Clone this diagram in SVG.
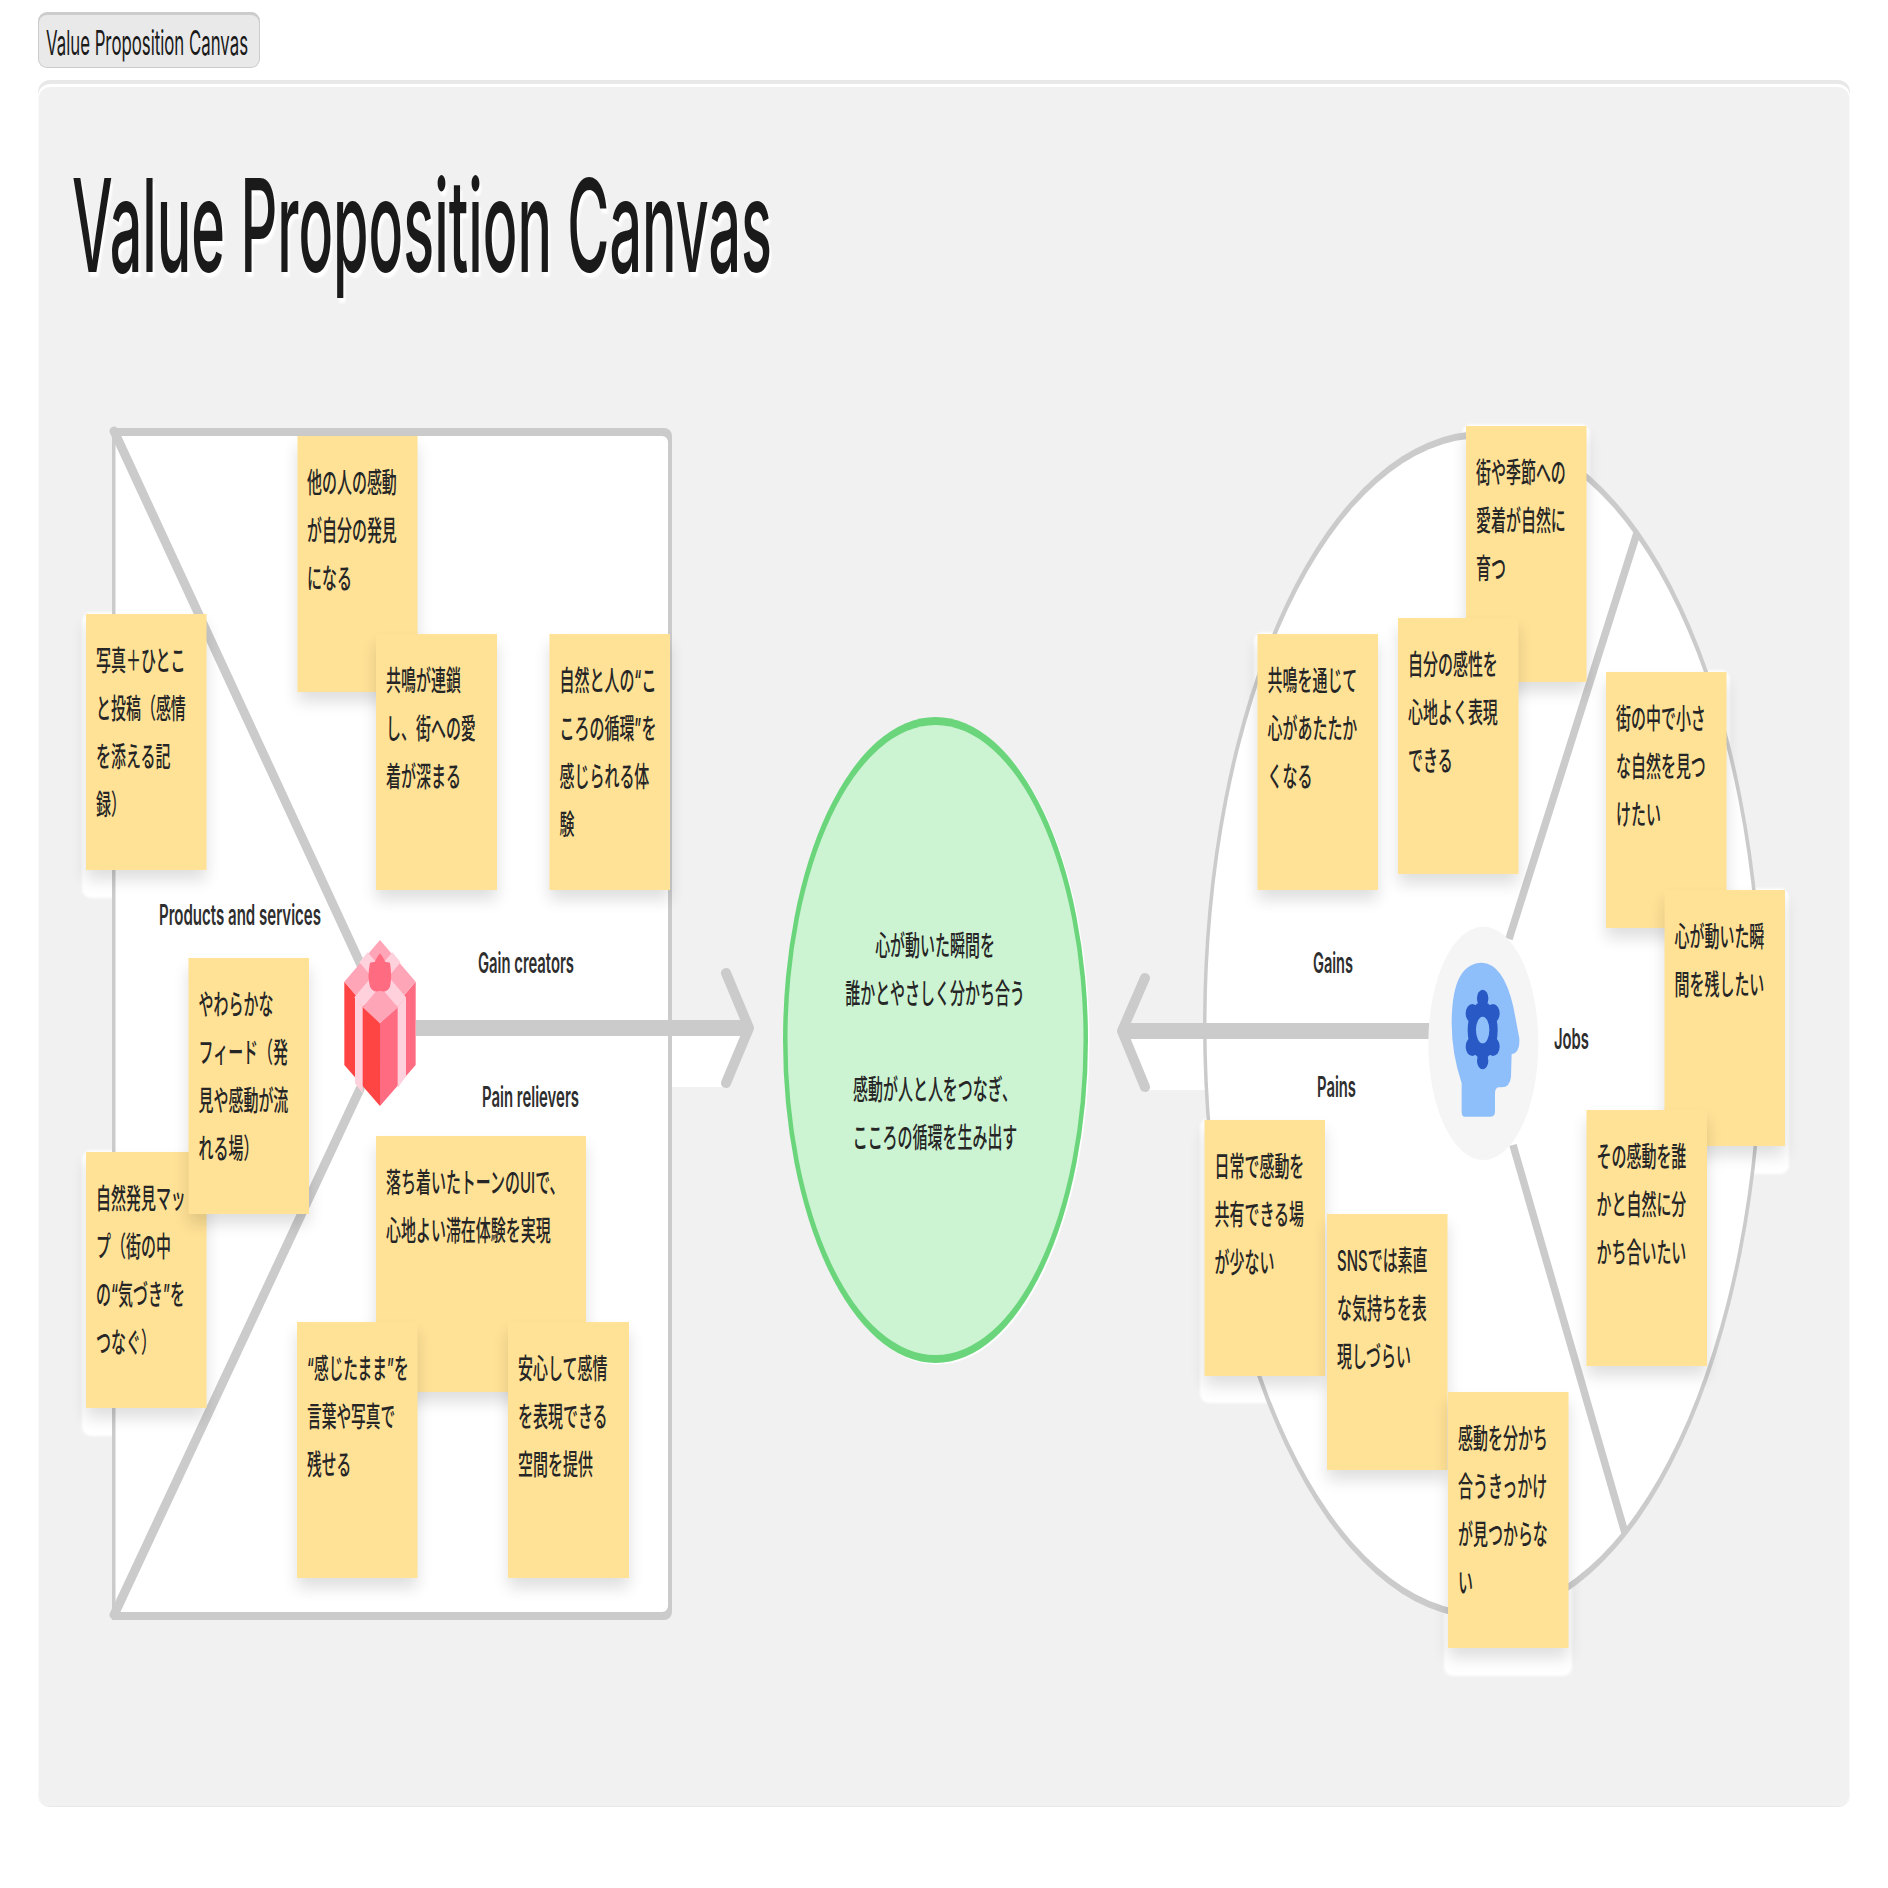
<svg xmlns="http://www.w3.org/2000/svg" width="1888" height="1888" viewBox="0 0 1888 1888">
<style>
text{font-family:Inter,"Noto Sans CJK JP",sans-serif;fill:#262626}
.dk{fill:#1a1a1a}
.n rect{fill:#ffe296;filter:url(#sh)}
.n text{font-size:28px;font-weight:500}
.lab{font-size:28px;font-weight:600;fill:#2e2e2e}
.c{fill:none;stroke:#cccbcc;stroke-linecap:round;stroke-linejoin:round}
.b{stroke-linecap:butt}
.halo{filter:url(#bl)}
.halo rect{fill:#fff;rx:9px}
</style>
<defs>
<filter id="sh" x="-30%" y="-10%" width="160%" height="130%" color-interpolation-filters="sRGB"><feGaussianBlur in="SourceAlpha" stdDeviation="8"/><feOffset dy="10"/><feComponentTransfer><feFuncA type="linear" slope=".13"/></feComponentTransfer><feMerge><feMergeNode/><feMergeNode in="SourceGraphic"/></feMerge></filter>
<filter id="tw" x="-5%" y="-10%" width="110%" height="125%" color-interpolation-filters="sRGB"><feDropShadow dx="2" dy="5" stdDeviation="1" flood-color="#fff"/></filter>
<filter id="bl" x="-5%" y="-5%" width="110%" height="110%"><feGaussianBlur stdDeviation="1"/></filter>
</defs>
<rect width="1888" height="1888" fill="#fff"/>
<g id="button"><rect x="38" y="12" width="222" height="56" rx="9" fill="#ccc"/><rect x="39" y="15" width="220" height="52" rx="8" fill="#e9e9e9"/>
<text class="dk" x="46" y="55" font-size="34" textLength="202" lengthAdjust="spacingAndGlyphs">Value Proposition Canvas</text></g>
<g id="canvas"><rect x="38" y="80" width="1812" height="1727" rx="12" fill="#e8e8e8"/><rect x="38" y="84" width="1812" height="1722" rx="12" fill="#fff"/><rect x="38.500" y="87" width="1811" height="1719" rx="12" fill="#f1f1f1"/></g>
<text class="dk" id="title" x="72" y="272" font-size="129" font-weight="500" textLength="700" lengthAdjust="spacingAndGlyphs" filter="url(#tw)">Value Proposition Canvas</text>
<g class="halo" id="halos">
<rect x="82" y="612" width="128" height="286"/><rect x="82" y="1150" width="128" height="286"/><rect x="1200" y="1118" width="129" height="285"/><rect x="1444" y="1390" width="128" height="286"/><rect x="1660" y="888" width="129" height="286"/><rect x="1462" y="424" width="128" height="286"/><rect x="1602" y="670" width="128" height="286"/><rect x="1254" y="632" width="128" height="286"/>
</g>
<path d="M672 1036H745L726 1087H672ZM1130 1039H1206V1090H1148Z" fill="#fff"/>
<g id="value-map-shape"><path d="M112 428H664a8 8 0 0 1 8 8V1612a8 8 0 0 1-8 8H112Z" fill="#cccbcc"/><path d="M115.500 436H662a6 6 0 0 1 6 6V1606a6 6 0 0 1-6 6H115.500Z" fill="#fff"/></g>
<g id="customer-profile-shape"><ellipse cx="1483" cy="1025" rx="280" ry="594" fill="#cccbcc"/><ellipse cx="1483" cy="1025" rx="276.500" ry="587" fill="#fff"/></g>
<g id="connectors">
<path class="c" stroke-width="9" d="M114 431L361 965M114 1615L360 1089"/>
<path class="c b" stroke-width="16" d="M416 1028H746"/>
<path class="c" stroke-width="10" d="M726 973L749 1028L726 1083"/>
<path class="c b" stroke-width="16" d="M1429 1031H1124"/>
<path class="c" stroke-width="10" d="M1145 978L1122 1031L1145 1087"/>
<path class="c b" stroke-width="7.500" d="M1637 533L1509 939M1513 1145L1625 1533"/>
</g>
<g id="value-proposition"><ellipse cx="937" cy="1041.500" rx="152.500" ry="323" fill="#fff"/><ellipse cx="935.500" cy="1040" rx="152.500" ry="323" fill="#6bd57c"/><ellipse cx="935.500" cy="1040" rx="148" ry="315" fill="#ccf4d2"/>
<text text-anchor="middle" font-size="28" font-weight="500" transform="translate(935 956) scale(.535 1)"><tspan x="0" y="0">心が動いた瞬間を</tspan><tspan x="0" y="48">誰かとやさしく分かち合う</tspan><tspan x="0" y="144">感動が人と人をつなぎ、</tspan><tspan x="0" y="192">こころの循環を生み出す</tspan></text></g>
<g id="gift" transform="translate(330 920) scale(.3333)">
<path d="M43 185L150 310V558L43 435Z" fill="#ff4444"/><path d="M150 310L257 185V435L150 558Z" fill="#ff6b81"/>
<path d="M150 60L257 185L150 310L43 185Z" fill="#ffa5b8"/>
<path d="M113 97L228 232L203 262L88 127ZM187 97L212 127L98 262L73 232Z" fill="#ffd1dc"/>
<path d="M150 215L205 262L150 310L98 262Z" fill="#ffa5b8"/>
<path d="M75 230L98 262V520L75 490ZM203 262L228 230V468L203 505Z" fill="#ffd1dc"/>
<path d="M150 100Q162 115 165 125L180 128Q187 170 180 200Q170 220 150 212Q130 220 120 200Q111 170 120 128L135 125Q138 115 150 100Z" fill="#ff6b81"/>
</g>
<g id="head" transform="translate(1410 910) scale(.3333)">
<ellipse cx="220" cy="400" rx="165" ry="350" fill="#f5f5f5"/>
<path d="M165 620Q155 620 155 605V520Q125 430 125 340Q125 160 215 158Q280 160 310 290L328 385Q330 430 305 432L303 500Q300 532 275 532H265Q255 535 255 550V605Q255 620 240 620Z" fill="#8fbffa"/>
<g fill="#2859c5"><ellipse cx="218" cy="360" rx="45" ry="85"/><ellipse cx="218" cy="265" rx="17" ry="26"/><ellipse cx="218" cy="452" rx="17" ry="26"/><ellipse cx="187" cy="310" rx="20" ry="28"/><ellipse cx="249" cy="310" rx="20" ry="28"/><ellipse cx="187" cy="410" rx="20" ry="28"/><ellipse cx="249" cy="410" rx="20" ry="28"/></g>
<ellipse cx="218" cy="360" rx="20" ry="40" fill="#8fbffa"/>
</g>
<text class="lab" x="159" y="925" textLength="162" lengthAdjust="spacingAndGlyphs">Products and services</text>
<text class="lab" x="478" y="973" textLength="96" lengthAdjust="spacingAndGlyphs">Gain creators</text>
<text class="lab" x="482" y="1107" textLength="97" lengthAdjust="spacingAndGlyphs">Pain relievers</text>
<text class="lab" x="1313" y="973" textLength="40" lengthAdjust="spacingAndGlyphs">Gains</text>
<text class="lab" x="1317" y="1097" textLength="39" lengthAdjust="spacingAndGlyphs">Pains</text>
<text class="lab" x="1554" y="1049" textLength="35" lengthAdjust="spacingAndGlyphs">Jobs</text>
<g id="note-1" class="n"><rect x="297.500" y="436" width="120" height="256"/><text transform="translate(307 493) scale(.535 1)"><tspan x="0" y="0">他の人の感動</tspan><tspan x="0" y="48">が自分の発見</tspan><tspan x="0" y="96">になる</tspan></text></g>
<g id="note-2" class="n"><rect x="86" y="614" width="120.500" height="256"/><text transform="translate(96 671) scale(.535 1)"><tspan x="0" y="0">写真＋ひとこ</tspan><tspan x="0" y="48">と投稿（感情</tspan><tspan x="0" y="96">を添える記</tspan><tspan x="0" y="144">録）</tspan></text></g>
<g id="note-3" class="n"><rect x="376" y="634" width="121" height="256"/><text transform="translate(386 691) scale(.535 1)"><tspan x="0" y="0">共鳴が連鎖</tspan><tspan x="0" y="48">し、街への愛</tspan><tspan x="0" y="96">着が深まる</tspan></text></g>
<g id="note-4" class="n"><rect x="549.500" y="634" width="120.500" height="256"/><text transform="translate(559.500 691) scale(.535 1)"><tspan x="0" y="0">自然と人の“こ</tspan><tspan x="0" y="48">ころの循環”を</tspan><tspan x="0" y="96">感じられる体</tspan><tspan x="0" y="144">験</tspan></text></g>
<g id="note-5" class="n"><rect x="86" y="1152" width="120.500" height="256"/><text transform="translate(96 1209) scale(.535 1)"><tspan x="0" y="0">自然発見マッ</tspan><tspan x="0" y="48">プ（街の中</tspan><tspan x="0" y="96">の“気づき”を</tspan><tspan x="0" y="144">つなぐ）</tspan></text></g>
<g id="note-6" class="n"><rect x="188.500" y="958" width="120.500" height="256"/><text transform="translate(198.500 1015) scale(.535 1)"><tspan x="0" y="0">やわらかな</tspan><tspan x="0" y="48">フィード（発</tspan><tspan x="0" y="96">見や感動が流</tspan><tspan x="0" y="144">れる場）</tspan></text></g>
<g id="note-7" class="n"><rect x="376" y="1136" width="210" height="256"/><text transform="translate(386 1193) scale(.535 1)"><tspan x="0" y="0">落ち着いたトーンのUIで、</tspan><tspan x="0" y="48">心地よい滞在体験を実現</tspan></text></g>
<g id="note-8" class="n"><rect x="297" y="1322" width="120.500" height="256"/><text transform="translate(307 1379) scale(.525 1)"><tspan x="0" y="0">“感じたまま”を</tspan><tspan x="0" y="48">言葉や写真で</tspan><tspan x="0" y="96">残せる</tspan></text></g>
<g id="note-9" class="n"><rect x="508" y="1322" width="121" height="256"/><text transform="translate(518 1379) scale(.535 1)"><tspan x="0" y="0">安心して感情</tspan><tspan x="0" y="48">を表現できる</tspan><tspan x="0" y="96">空間を提供</tspan></text></g>
<g id="note-10" class="n"><rect x="1466" y="426" width="120.500" height="256"/><text transform="translate(1476 483) scale(.535 1)"><tspan x="0" y="0">街や季節への</tspan><tspan x="0" y="48">愛着が自然に</tspan><tspan x="0" y="96">育つ</tspan></text></g>
<g id="note-11" class="n"><rect x="1257.500" y="634" width="120.500" height="256"/><text transform="translate(1267.500 691) scale(.535 1)"><tspan x="0" y="0">共鳴を通じて</tspan><tspan x="0" y="48">心があたたか</tspan><tspan x="0" y="96">くなる</tspan></text></g>
<g id="note-12" class="n"><rect x="1398" y="618" width="120.500" height="256"/><text transform="translate(1408 675) scale(.535 1)"><tspan x="0" y="0">自分の感性を</tspan><tspan x="0" y="48">心地よく表現</tspan><tspan x="0" y="96">できる</tspan></text></g>
<g id="note-13" class="n"><rect x="1606" y="672" width="120.500" height="256"/><text transform="translate(1616 729) scale(.535 1)"><tspan x="0" y="0">街の中で小さ</tspan><tspan x="0" y="48">な自然を見つ</tspan><tspan x="0" y="96">けたい</tspan></text></g>
<g id="note-14" class="n"><rect x="1664.500" y="890" width="120.500" height="256"/><text transform="translate(1674.500 947) scale(.535 1)"><tspan x="0" y="0">心が動いた瞬</tspan><tspan x="0" y="48">間を残したい</tspan></text></g>
<g id="note-15" class="n"><rect x="1586.500" y="1110" width="120.500" height="256"/><text transform="translate(1596.500 1167) scale(.535 1)"><tspan x="0" y="0">その感動を誰</tspan><tspan x="0" y="48">かと自然に分</tspan><tspan x="0" y="96">かち合いたい</tspan></text></g>
<g id="note-16" class="n"><rect x="1204.500" y="1120" width="120.500" height="256"/><text transform="translate(1214.500 1177) scale(.535 1)"><tspan x="0" y="0">日常で感動を</tspan><tspan x="0" y="48">共有できる場</tspan><tspan x="0" y="96">が少ない</tspan></text></g>
<g id="note-17" class="n"><rect x="1327" y="1214" width="120.500" height="256"/><text transform="translate(1337 1271) scale(.535 1)"><tspan x="0" y="0">SNSでは素直</tspan><tspan x="0" y="48">な気持ちを表</tspan><tspan x="0" y="96">現しづらい</tspan></text></g>
<g id="note-18" class="n"><rect x="1448" y="1392" width="120.500" height="256"/><text transform="translate(1458 1449) scale(.535 1)"><tspan x="0" y="0">感動を分かち</tspan><tspan x="0" y="48">合うきっかけ</tspan><tspan x="0" y="96">が見つからな</tspan><tspan x="0" y="144">い</tspan></text></g>
</svg>
